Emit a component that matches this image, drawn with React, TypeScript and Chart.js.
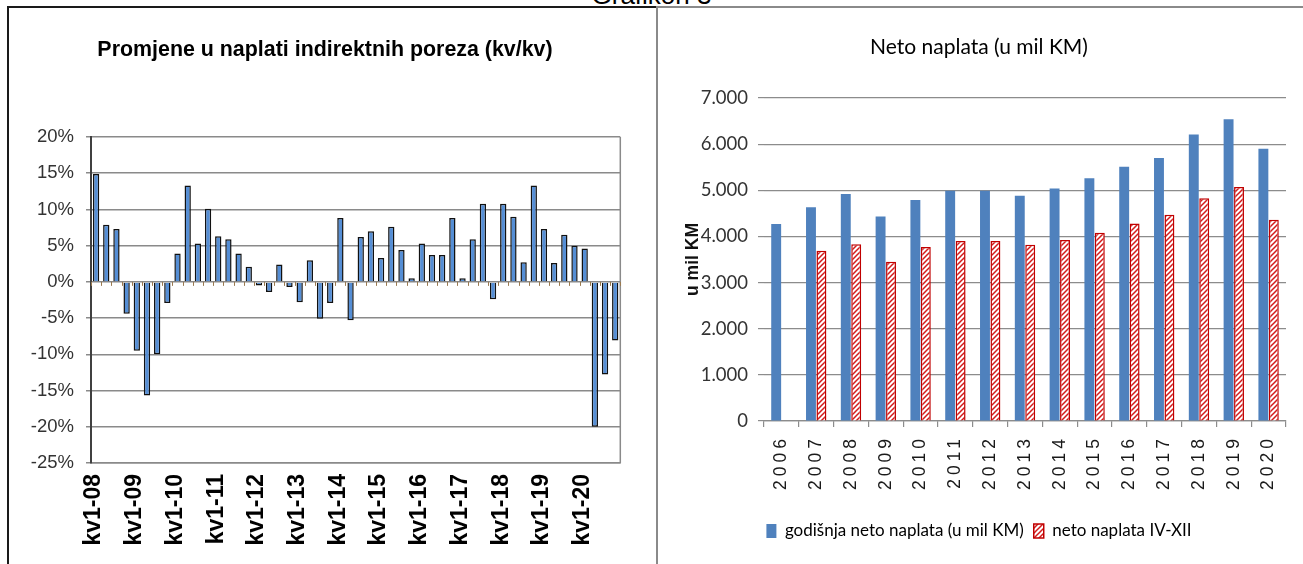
import React, { useEffect, useRef } from 'react';
import { Chart, registerables } from 'chart.js';

Chart.register(...registerables);

// ---------- Left chart data ----------
const quarterYears = ['08', '09', '10', '11', '12', '13', '14', '15', '16', '17', '18', '19', '20'];
const quarterNames = ['kv1', 'kv2', 'kv3', 'kv4'];
const quarterLabels = quarterYears.flatMap((y) => quarterNames.map((q) => `${q}-${y}`));
const quarterChange = [
  14.9, 7.9, 7.3, -4.4,
  -9.5, -15.7, -10.0, -2.9,
  3.9, 13.3, 5.3, 10.1,
  6.3, 5.9, 3.9, 2.1,
  -0.5, -1.4, 2.4, -0.7,
  -2.8, 3.0, -5.1, -2.9,
  8.8, -5.3, 6.2, 7.0,
  3.3, 7.6, 4.4, 0.5,
  5.3, 3.7, 3.7, 8.8,
  0.5, 5.9, 10.8, -2.4,
  10.8, 9.0, 2.7, 13.3,
  7.3, 2.6, 6.5, 5.0,
  4.6, -20.0, -12.8, -8.1,
];

// ---------- Right chart data ----------
const years = ['2006', '2007', '2008', '2009', '2010', '2011', '2012', '2013', '2014', '2015', '2016', '2017', '2018', '2019', '2020'];
const annualNet = [4270, 4630, 4920, 4430, 4790, 4990, 4990, 4880, 5040, 5260, 5510, 5700, 6210, 6540, 5900];
const netAprDec = [null, 3690, 3830, 3450, 3770, 3900, 3900, 3820, 3920, 4080, 4280, 4470, 4830, 5070, 4360];

const ARIAL = 'Liberation Sans, Arial, sans-serif';
const CALIBRI = 'Lato, Carlito, Calibri, sans-serif';

function fmtThousands(v: number): string {
  return String(v).replace(/\B(?=(\d{3})+(?!\d))/g, '.');
}

function makeHatch(ctx: CanvasRenderingContext2D): CanvasPattern | string {
  const c = document.createElement('canvas');
  c.width = 5;
  c.height = 5;
  const g = c.getContext('2d');
  if (!g) return '#fff';
  g.fillStyle = '#ffffff';
  g.fillRect(0, 0, 5, 5);
  g.strokeStyle = '#D41B1B';
  g.lineWidth = 1.5;
  g.beginPath();
  g.moveTo(-1, 6);
  g.lineTo(6, -1);
  g.moveTo(-2, 2);
  g.lineTo(2, -2);
  g.moveTo(3, 7);
  g.lineTo(7, 3);
  g.stroke();
  return ctx.createPattern(c, 'repeat') || '#fff';
}

const leftFramePlugin = {
  id: 'leftFrame',
  beforeDatasetsDraw(chart: any) {
    const { ctx, chartArea } = chart;
    ctx.save();
    ctx.strokeStyle = '#8a8a8a';
    ctx.lineWidth = 1.5;
    ctx.beginPath();
    ctx.moveTo(chartArea.right, chartArea.top);
    ctx.lineTo(chartArea.right, chartArea.bottom);
    ctx.stroke();
    ctx.restore();
  },
  afterDatasetsDraw(chart: any) {
    const { ctx } = chart;
    const x = chart.scales.x;
    const y = chart.scales.y;
    const y0 = y.getPixelForValue(0);
    const step = x.getPixelForValue(1) - x.getPixelForValue(0);
    ctx.save();
    ctx.strokeStyle = '#9a7a50';
    ctx.lineWidth = 1;
    ctx.beginPath();
    for (let i = 0; i <= quarterLabels.length; i++) {
      const px = x.getPixelForValue(0) - step / 2 + i * step;
      ctx.moveTo(Math.round(px) + 0.5, y0);
      ctx.lineTo(Math.round(px) + 0.5, y0 + 4);
    }
    ctx.stroke();
    ctx.restore();
  },
};

const spacingPlugin = {
  id: 'xLetterSpacing',
  afterDatasetsDraw(chart: any) {
    (chart.ctx as any).letterSpacing = '4px';
  },
  afterDraw(chart: any) {
    (chart.ctx as any).letterSpacing = '0px';
  },
};

function LeftChart() {
  const ref = useRef<HTMLCanvasElement | null>(null);
  useEffect(() => {
    if (!ref.current) return;
    const chart = new Chart(ref.current, {
      type: 'bar',
      data: {
        labels: quarterLabels,
        datasets: [
          {
            data: quarterChange,
            backgroundColor: '#558ED5',
            borderColor: '#111111',
            borderWidth: 1.5,
            barPercentage: 0.62,
            categoryPercentage: 1,
          },
        ],
      },
      options: {
        responsive: false,
        animation: false,
        events: [],
        layout: { padding: { left: 3, right: 19, top: 0, bottom: 0 } },
        plugins: {
          legend: { display: false },
          tooltip: { enabled: false },
          title: {
            display: true,
            text: 'Promjene u naplati indirektnih poreza (kv/kv)',
            color: '#000',
            font: { family: ARIAL, size: 21.4, weight: 'bold', lineHeight: 1.2 },
            padding: { top: 28, bottom: 74.3 },
          },
        },
        scales: {
          x: {
            grid: { display: false, drawTicks: false },
            border: { display: true, color: '#8a8a8a', width: 1.5 },
            ticks: {
              autoSkip: false,
              maxRotation: 90,
              minRotation: 90,
              padding: 11,
              labelOffset: -2,
              color: '#000',
              font: { family: ARIAL, size: 23, weight: 'bold' },
              callback: (_v: any, i: number) => (i % 4 === 0 ? quarterLabels[i] : ''),
            },
            afterFit: (s: any) => {
              s.height = 101;
            },
          },
          y: {
            min: -25,
            max: 20,
            ticks: {
              stepSize: 5,
              padding: 12,
              color: '#333',
              font: { family: ARIAL, size: 18.5 },
              callback: (v: any) => `${v}%`,
            },
            grid: { color: '#8a8a8a', lineWidth: 1.5, drawTicks: true, tickLength: 5 },
            border: { display: true, color: '#404040', width: 2 },
            afterFit: (s: any) => {
              s.width = 76;
            },
          },
        },
      } as any,
      plugins: [leftFramePlugin],
    });
    return () => chart.destroy();
  }, []);
  return <canvas ref={ref} width={642} height={555} style={{ position: 'absolute', left: 12, top: 9, width: 642, height: 555 }} />;
}

function RightChart() {
  const ref = useRef<HTMLCanvasElement | null>(null);
  useEffect(() => {
    if (!ref.current) return;
    const ctx = ref.current.getContext('2d') as CanvasRenderingContext2D;
    const hatch = makeHatch(ctx);
    const chart = new Chart(ref.current, {
      type: 'bar',
      data: {
        labels: years,
        datasets: [
          {
            label: 'godišnja neto naplata (u mil KM)',
            data: annualNet,
            backgroundColor: '#4F81BD',
            borderWidth: 0,
            categoryPercentage: 0.6,
            barPercentage: 0.95,
          },
          {
            label: 'neto naplata IV-XII',
            data: netAprDec,
            backgroundColor: hatch as any,
            borderColor: '#C00000',
            borderWidth: 1.5,
            categoryPercentage: 0.6,
            barPercentage: 0.95,
          },
        ],
      },
      options: {
        responsive: false,
        animation: false,
        events: [],
        layout: { padding: { left: 14, right: 17, top: 0, bottom: 14.5 } },
        plugins: {
          tooltip: { enabled: false },
          title: {
            display: true,
            text: 'Neto naplata (u mil KM)',
            color: '#000',
            font: { family: CALIBRI, size: 21, weight: 'normal', lineHeight: 1.2 },
            padding: { top: 25.4, bottom: 38.4 },
          },
          legend: {
            display: true,
            position: 'bottom',
            labels: {
              boxWidth: 10,
              boxHeight: 14,
              padding: 10,
              color: '#000',
              font: { family: CALIBRI, size: 17 },
            },
          },
        },
        scales: {
          x: {
            grid: {
              display: true,
              drawOnChartArea: false,
              drawTicks: true,
              tickLength: 6,
              color: '#8c8c8c',
              lineWidth: 1.2,
            },
            border: { display: true, color: '#8c8c8c', width: 1.2 },
            ticks: {
              maxRotation: 90,
              minRotation: 90,
              padding: 8,
              autoSkip: false,
              color: '#1a1a1a',
              font: { family: ARIAL, size: 17.5 },
              z: 1,
            },
            afterFit: (s: any) => {
              s.height = 91.5;
            },
          },
          y: {
            min: 0,
            max: 7000,
            ticks: {
              stepSize: 1000,
              padding: 10,
              color: '#333',
              font: { family: CALIBRI, size: 18.5 },
              callback: (v: any) => fmtThousands(Number(v)),
            },
            grid: { color: '#8c8c8c', lineWidth: 1.2, drawTicks: true, tickLength: 6 },
            border: { display: false },
            title: {
              display: true,
              text: 'u mil KM',
              color: '#111',
              font: { family: ARIAL, size: 17.5, weight: 'bold' },
              padding: { top: 11, bottom: 0 },
            },
            afterFit: (s: any) => {
              s.width = 92;
            },
          },
        },
      } as any,
      plugins: [spacingPlugin],
    });
    return () => chart.destroy();
  }, []);
  return <canvas ref={ref} width={645} height={555} style={{ position: 'absolute', left: 658, top: 9, width: 645, height: 555 }} />;
}

export default function App() {
  return (
    <div
      style={{
        position: 'fixed',
        left: 0,
        top: 0,
        width: 1303,
        height: 564,
        background: '#ffffff',
        overflow: 'hidden',
        fontFamily: ARIAL,
      }}
    >
      <div
        style={{
          position: 'absolute',
          left: 0,
          width: 1303,
          top: -18,
          textAlign: 'center',
          fontSize: 26,
          lineHeight: '26px',
          color: '#000',
        }}
      >
        Grafikon 3
      </div>
      <div style={{ position: 'absolute', left: 7, top: 6, width: 650, height: 2, background: '#1a1a1a' }} />
      <div style={{ position: 'absolute', left: 656, top: 6, width: 647, height: 2, background: '#8a8a8a' }} />
      <div style={{ position: 'absolute', left: 7, top: 6, width: 2, height: 558, background: '#1a1a1a' }} />
      <div style={{ position: 'absolute', left: 656, top: 6, width: 2, height: 558, background: '#8a8a8a' }} />
      <LeftChart />
      <RightChart />
    </div>
  );
}
